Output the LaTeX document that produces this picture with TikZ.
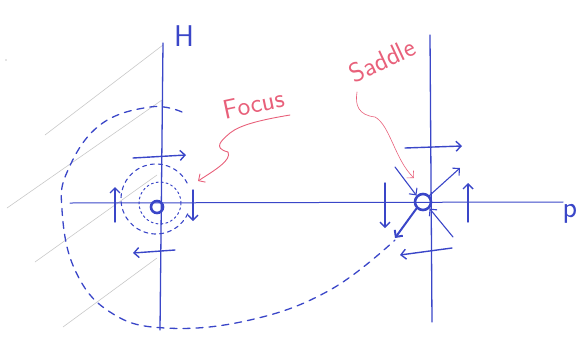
\documentclass[tikz,border=0pt]{standalone}
\usepackage{tikz}
\usetikzlibrary{arrows.meta}
\definecolor{ink}{HTML}{3A46C8}
\definecolor{rose}{HTML}{E8607A}
\definecolor{pencil}{HTML}{C8C8C8}

\begin{document}
\begin{tikzpicture}[
    x=1pt, y=-1pt,
    font=\sffamily,
    line cap=round,
    >={Straight Barb[length=5pt,width=10pt]}
  ]
  \tikzset{
    axis/.style={ink, line width=1.3pt},
    flow/.style={->, ink, line width=1.4pt},
    orbit/.style={ink, line width=1.3pt, dash pattern=on 7pt off 6pt},
    fixedpt/.style={circle, draw=ink, line width=2.6pt, inner sep=0pt},
    note/.style={rose, font=\sffamily\fontsize{27}{27}\selectfont},
    pointer/.style={->, rose, line width=0.9pt},
    sketchline/.style={pencil, line width=0.6pt}
  }
  \useasboundingbox (0,0) rectangle (581,338);

  % faint pencil strokes
  \draw[sketchline] (163,45) -- (45,135);
  \draw[sketchline] (162,100) -- (7,208);
  \draw[sketchline] (157,175) -- (35,262);
  \draw[sketchline] (157,258) -- (63,327);
  \fill[pencil] (6,60) circle (0.8pt);

  % axes
  \coordinate (Htop) at (163,43);
  \coordinate (Hbot) at (160,330);
  \coordinate (Ptop) at (430,35);
  \coordinate (Pbot) at (432,322);
  \coordinate (pl) at (70,203);
  \coordinate (pr) at (563,202);
  \draw[axis] (Htop) -- (Hbot);
  \draw[axis] (Ptop) -- (Pbot);
  \draw[axis, line width=1pt] (pl) -- (pr);
  \node[ink, font=\sffamily\fontsize{30}{30}\selectfont] (H) at (184,36) {H};
  \node[ink, font=\sffamily\fontsize{30}{30}\selectfont] (p) at (570,214) {p};

  % fixed points
  \node[fixedpt, minimum size=12pt] (focus) at (157,207) {};
  \node[fixedpt, minimum size=16pt] (saddle) at (423,202) {};

  % orbits round the focus
  \draw[ink, line width=1pt, dash pattern=on 2pt off 3pt] (160,203) circle (21);
  \draw[ink, line width=1.1pt, dash pattern=on 4pt off 4pt] (156,199) ++(25:35) arc (25:335:35);
  \draw[orbit] plot[smooth, tension=0.7] coordinates
    {(182,112) (150,107) (100,125) (68,170) (62,210) (75,270) (110,312) (165,328) (250,320) (330,290) (395,240)};

  % flow near the focus
  \draw[flow] (133,158) -- (186,155);
  \draw[flow] (115,222) -- (115,187);
  \draw[flow] (193,190) -- (193,221);
  \draw[flow] (175,250) -- (133,253);

  % flow near the saddle
  \draw[flow] (405,148) -- (462,146);
  \draw[flow] (385,183) -- (385,228);
  \draw[flow] (468,222) -- (468,183);
  \draw[flow] (452,248) -- (400,255);
  \draw[flow, line width=1.1pt] (395,167) -- (saddle.north west);
  \draw[flow, line width=1.1pt] (453,237) -- (saddle.south east);
  \draw[flow, line width=1.1pt] (saddle.north east) -- (460,168);
  \draw[flow, line width=2pt] (saddle.south west) -- (395,238);

  % labels
  \node[note, rotate=12] (focuslbl) at (254,104) {Focus};
  \node[note, rotate=25] (saddlelbl) at (382,60) {Saddle};
  \draw[pointer] (290,115) .. controls (260,120) and (240,125) .. (230,133)
    .. controls (222,140) and (212,148) .. (228,152)
    .. controls (232,160) and (215,170) .. (198,181);
  \draw[pointer, line width=0.6pt] (357,92) .. controls (355,105) and (358,115) .. (375,117)
    .. controls (390,125) and (395,160) .. (414,178);
\end{tikzpicture}
\end{document}
